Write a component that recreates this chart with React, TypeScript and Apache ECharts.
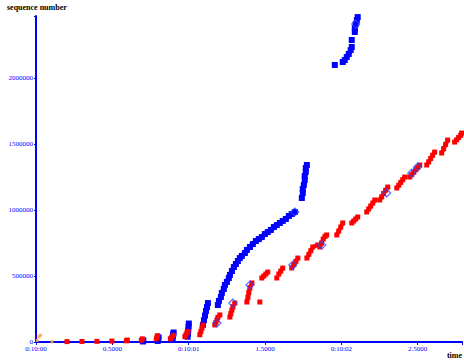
import React, { useEffect, useRef } from "react";
import * as echarts from "echarts";

const xTickValues = [0, 0.5, 1, 1.5, 2, 2.5];
const xTickLabels = ["0:10:00", "0.5000", "0:10:01", "1.5000", "0:10:02", "2.5000"];
const yTickLabels = ["0", "500000", "1000000", "1500000", "2000000"];

// blue data segments [time s, sequence number], one list per burst
const blueBursts: [number, number][][] = [
  [[0.7, 4000], [0.703, 12000]],
  [[0.797, 8000], [0.8, 20000], [0.803, 35000]],
  [[0.895, 30000], [0.897, 45000], [0.899, 60000], [0.901, 72000]],
  [[0.993, 40000], [0.995, 65000], [0.997, 90000], [0.999, 115000], [1.001, 140000]],
  [[1.093, 130000], [1.1, 165000], [1.107, 200000], [1.113, 235000], [1.12, 265000], [1.126, 295000]],
  [
    [1.191, 280000], [1.198, 311000], [1.211, 341000], [1.217, 371000], [1.23, 402000],
    [1.237, 432000], [1.25, 455000], [1.263, 485000], [1.27, 508000], [1.283, 538000],
    [1.296, 568000], [1.309, 591000], [1.322, 614000], [1.335, 636000], [1.348, 652000],
    [1.368, 674000], [1.381, 697000], [1.401, 720000], [1.42, 742000], [1.44, 765000],
    [1.459, 780000], [1.479, 795000], [1.499, 818000], [1.518, 833000], [1.538, 849000],
    [1.558, 871000], [1.577, 886000], [1.597, 902000], [1.616, 917000], [1.636, 932000],
    [1.656, 955000], [1.675, 970000], [1.695, 985000],
  ],
  [
    [1.741, 1091000], [1.747, 1129000], [1.747, 1159000], [1.754, 1189000], [1.76, 1227000],
    [1.76, 1258000], [1.767, 1288000], [1.767, 1318000], [1.774, 1341000],
  ],
  [[1.957, 2099000]],
  [[2.009, 2121000], [2.022, 2136000], [2.035, 2159000], [2.048, 2182000], [2.061, 2212000], [2.068, 2235000]],
  [[2.068, 2288000]],
  [[2.088, 2349000], [2.088, 2379000], [2.094, 2409000], [2.101, 2439000], [2.107, 2462000]],
];

// red data segments, one list per burst
const redBursts: [number, number][][] = [
  [[0.203, 3000]], [[0.301, 4000]], [[0.399, 5000]], [[0.497, 7000]],
  [[0.592, 9000], [0.598, 15000]],
  [[0.69, 13000], [0.696, 24000]],
  [[0.788, 24000], [0.792, 36000], [0.796, 48000]],
  [[0.88, 25000], [0.89, 38000], [0.9, 50000]],
  [[0.975, 40000], [0.982, 55000], [0.989, 70000], [0.995, 80000]],
  [[1.073, 55000], [1.08, 80000], [1.087, 105000], [1.093, 128000]],
  [[1.171, 129000], [1.178, 148000], [1.185, 167000], [1.191, 186000], [1.204, 205000]],
  [[1.27, 189000], [1.276, 215000], [1.283, 242000], [1.29, 268000], [1.302, 295000]],
  [[1.381, 303000], [1.388, 339000], [1.394, 375000], [1.401, 411000], [1.414, 447000]],
  [[1.466, 303000]],
  [[1.479, 485000], [1.492, 500000], [1.505, 515000], [1.518, 530000]],
  [[1.577, 485000]],
  [[1.59, 515000], [1.603, 537000], [1.616, 560000]],
  [[1.675, 561000], [1.688, 586000], [1.702, 611000], [1.715, 636000]],
  [[1.774, 636000], [1.787, 664000], [1.8, 692000], [1.813, 720000], [1.845, 735000]],
  [[1.859, 720000], [1.87, 750000], [1.881, 780000], [1.893, 800000], [1.904, 811000]],
  [[1.97, 811000], [1.983, 841000], [1.996, 871000], [2.009, 902000]],
  [[2.068, 902000], [2.081, 917000], [2.094, 932000], [2.107, 947000]],
  [[2.166, 985000], [2.179, 1008000], [2.192, 1030000], [2.206, 1053000], [2.219, 1076000]],
  [[2.251, 1076000], [2.264, 1100000], [2.277, 1125000], [2.29, 1150000], [2.304, 1174000]],
  [[2.363, 1167000], [2.376, 1188000], [2.389, 1209000], [2.402, 1230000], [2.415, 1250000]],
  [[2.448, 1250000], [2.461, 1268000], [2.474, 1286000], [2.487, 1305000], [2.5, 1323000], [2.513, 1341000]],
  [[2.559, 1341000], [2.572, 1365000], [2.585, 1390000], [2.598, 1415000], [2.611, 1439000]],
  [[2.657, 1432000], [2.67, 1465000], [2.683, 1497000], [2.696, 1530000]],
  [[2.742, 1515000], [2.755, 1532000], [2.768, 1549000], [2.781, 1566000], [2.788, 1583000]],
];

// hollow diamond markers
const diamondData: [number, number][] = [
  [1.185, 144000], [1.289, 295000], [1.401, 432000], [1.682, 583000], [1.695, 985000],
  [1.872, 735000], [2.094, 2409000], [2.297, 1129000], [2.461, 1280000], [2.5, 1326000],
];

// orange marks near origin
const orangeData: [number, number][] = [
  [0.008, 12000], [0.02, 40000], [0.03, 52000], [0.105, 2000],
];

function joinBursts(bursts: [number, number][][]) {
  const out: any[] = [];
  bursts.forEach((b, i) => {
    if (i > 0) out.push([b[0][0], null]);
    b.forEach((p) => out.push(p));
  });
  return out;
}

export default function App() {
  const ref = useRef<HTMLDivElement>(null);
  useEffect(() => {
    document.body.style.margin = "0";
    const chart = echarts.init(ref.current!, null, { renderer: "svg" });
    const blue = "#0000ff";
    const red = "#ff0000";
    const labelFont = { fontFamily: "Liberation Serif", fontSize: 7, color: blue };
    chart.setOption({
      animation: false,
      backgroundColor: "#ffffff",
      grid: { left: 36, right: 2, top: 16, bottom: 20, outerBoundsMode: "none" },
      xAxis: {
        type: "value",
        min: 0,
        max: 2.79,
        interval: 0.5,
        splitLine: { show: false },
        axisLine: { lineStyle: { color: blue, width: 2 } },
        axisTick: { length: 3, lineStyle: { color: blue } },
        axisLabel: {
          ...labelFont,
          margin: 3,
          formatter: (v: number) => {
            const i = xTickValues.findIndex((t) => Math.abs(t - v) < 1e-6);
            return i >= 0 ? xTickLabels[i] : "";
          },
        },
      },
      yAxis: {
        type: "value",
        min: 0,
        max: 2470000,
        interval: 500000,
        splitLine: { show: false },
        axisLine: { show: true, lineStyle: { color: blue, width: 2 } },
        axisTick: { show: true, length: 2, lineStyle: { color: blue } },
        axisLabel: {
          ...labelFont,
          margin: 3,
          formatter: (v: number) => {
            const i = Math.round(v / 500000);
            return Math.abs(v - i * 500000) < 1 && i < yTickLabels.length ? yTickLabels[i] : "";
          },
        },
      },
      graphic: [
        {
          type: "text",
          left: 7,
          top: 3,
          style: { text: "sequence number", font: "bold 8px 'Liberation Serif'", fill: "#000" },
        },
        {
          type: "text",
          right: 2,
          top: 351,
          style: { text: "time", font: "bold 8px 'Liberation Serif'", fill: "#000" },
        },
      ],
      series: [
        {
          type: "line",
          data: joinBursts(blueBursts),
          connectNulls: false,
          symbol: "rect",
          symbolSize: 6,
          showAllSymbol: true,
          itemStyle: { color: blue },
          lineStyle: { color: blue, width: 5 },
          z: 2,
        },
        {
          type: "line",
          data: joinBursts(redBursts),
          connectNulls: false,
          symbol: "rect",
          symbolSize: 5,
          showAllSymbol: true,
          itemStyle: { color: red },
          lineStyle: { color: red, width: 4 },
          z: 3,
        },
        {
          type: "scatter",
          data: diamondData,
          symbol: "diamond",
          symbolSize: 8,
          itemStyle: { color: "rgba(0,0,0,0)", borderColor: "#3344ff", borderWidth: 1.2 },
          z: 4,
        },
        {
          type: "scatter",
          data: orangeData,
          symbol: "rect",
          symbolSize: 3,
          itemStyle: { color: "#ffa040", opacity: 0.85 },
          z: 4,
        },
      ],
    });
    return () => chart.dispose();
  }, []);
  return (
    <div
      ref={ref}
      style={{ position: "fixed", left: 0, top: 0, width: 464, height: 362 }}
    />
  );
}
